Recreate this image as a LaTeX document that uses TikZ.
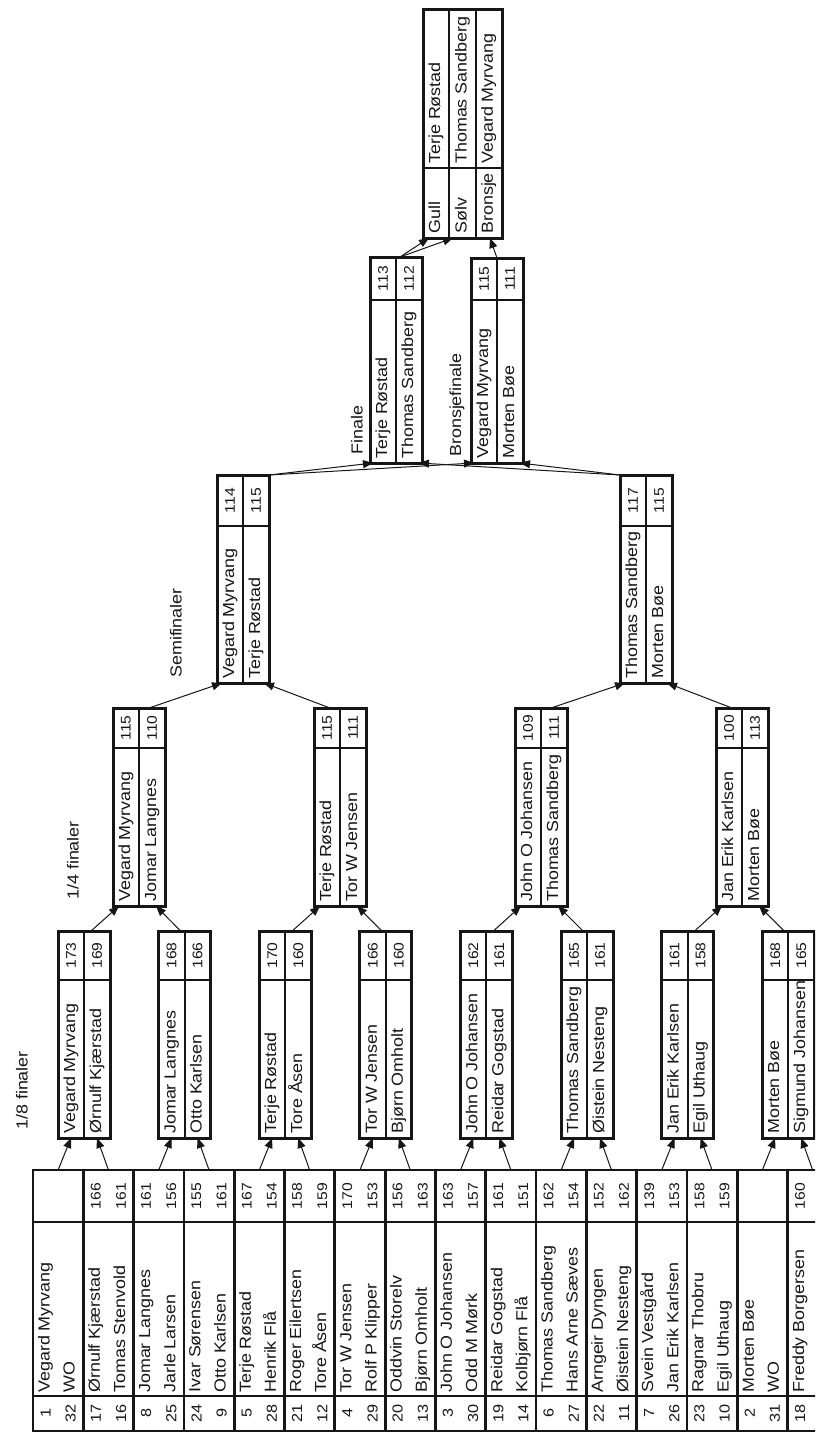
\documentclass[tikz,border=0pt]{standalone}
\usepackage{fontspec}
\setmainfont{Liberation Sans}[FakeStretch=1.12]
\usepackage{tikz}
\usetikzlibrary{arrows.meta,calc}
\definecolor{inkLine}{RGB}{22, 22, 22}

\tikzset{
  boxframe/.style={draw=inkLine, line width=3pt, minimum width=52pt, inner sep=0pt, outer sep=0pt},
  groupframe/.style={draw=inkLine, line width=2.8pt, minimum width=50.3pt, minimum height=261pt, inner sep=0pt, outer sep=0pt, anchor=north west},
  cellrule/.style={draw=inkLine, line width=2pt},
  tablerule/.style={draw=inkLine, line width=2.8pt},
  namecell/.style={rotate=90, anchor=west, inner sep=0pt, text height=11pt, text depth=3pt, text=inkLine, font=\fontsize{16}{18}\selectfont},
  scorecell/.style={rotate=90, inner sep=0pt, text=inkLine, font=\fontsize{14}{16}\selectfont},
  seedcell/.style={rotate=90, inner sep=0pt, text=inkLine, font=\fontsize{14.5}{16}\selectfont},
  roundlabel/.style={rotate=90, anchor=west, inner sep=0pt, text=inkLine, font=\fontsize{16}{18}\selectfont},
  advance/.style={draw=inkLine, line width=1pt, -{Triangle[length=10pt,width=8pt]}},
}

% one match: name, left, top, height, score depth, player 1, score 1, player 2, score 2
\newcommand{\matchbox}[9]{%
  \node[boxframe, minimum height=#4pt, anchor=north west] (#1) at (#2,#3) {};
  \draw[cellrule] (#1.north) -- (#1.south);
  \draw[cellrule] ($(#1.north west)+(0,#5)$) -- ($(#1.north east)+(0,#5)$);
  \node[namecell] (#1-p1) at ($(#1.south west)+(13,-4)$) {#6};
  \node[namecell] (#1-p2) at ($(#1.south east)+(-13,-4)$) {#8};
  \node[scorecell] (#1-s1) at ($(#1.north west)+(13,#5/2)$) {#7};
  \node[scorecell] (#1-s2) at ($(#1.north east)+(-13,#5/2)$) {#9};
}

\begin{document}
\begin{tikzpicture}[x=1pt, y=-1pt]
\useasboundingbox (0,0) rectangle (815,1435);
\clip (0,0) rectangle (815,1435);

% seeding table
\foreach \g in {1,...,16}
  \node[groupframe] (grp\g) at ({33+50.3*(\g-1)},1170) {};
\draw[tablerule] ($(grp1.north west)+(0,52)$) -- ($(grp16.north east)+(0,52)$);
\draw[tablerule] ($(grp1.south west)+(0,-35)$) -- ($(grp16.south east)+(0,-35)$);

\foreach \seed/\player/\score [count=\idx] in {
  1/Vegard Myrvang/{}, 32/WO/{},
  17/Ørnulf Kjærstad/166, 16/Tomas Stenvold/161,
  8/Jomar Langnes/161, 25/Jarle Larsen/156,
  24/Ivar Sørensen/155, 9/Otto Karlsen/161,
  5/Terje Røstad/167, 28/Henrik Flå/154,
  21/Roger Eilertsen/158, 12/Tore Åsen/159,
  4/Tor W Jensen/170, 29/Rolf P Klipper/153,
  20/Oddvin Storelv/156, 13/Bjørn Omholt/163,
  3/John O Johansen/163, 30/Odd M Mørk/157,
  19/Reidar Gogstad/161, 14/Kolbjørn Flå/151,
  6/Thomas Sandberg/162, 27/Hans Arne Sæves/154,
  22/Arngeir Dyngen/152, 11/Øistein Nesteng/162,
  7/Svein Vestgård/139, 26/Jan Erik Karlsen/153,
  23/Ragnar Thobru/158, 10/Egil Uthaug/159,
  2/Morten Bøe/{}, 31/WO/{},
  18/Freddy Borgersen/160}{
  \node[seedcell] (seed\idx) at ({33+25.15*\idx-12.575},1413) {\seed};
  \node[namecell] (player\idx) at ({33+25.15*\idx-12.575},1393) {\player};
  \node[scorecell] (score\idx) at ({33+25.15*\idx-12.575},1196) {\score};
}

% 1/8 finaler
\matchbox{ef1}{58}{931}{207}{49}{Vegard Myrvang}{173}{Ørnulf Kjærstad}{169}
\matchbox{ef2}{158.6}{931}{207}{49}{Jomar Langnes}{168}{Otto Karlsen}{166}
\matchbox{ef3}{259.2}{931}{207}{49}{Terje Røstad}{170}{Tore Åsen}{160}
\matchbox{ef4}{359.8}{931}{207}{49}{Tor W Jensen}{166}{Bjørn Omholt}{160}
\matchbox{ef5}{460.4}{931}{207}{49}{John O Johansen}{162}{Reidar Gogstad}{161}
\matchbox{ef6}{561}{931}{207}{49}{Thomas Sandberg}{165}{Øistein Nesteng}{161}
\matchbox{ef7}{661.6}{931}{207}{49}{Jan Erik Karlsen}{161}{Egil Uthaug}{158}
\matchbox{ef8}{762.2}{931}{207}{49}{Morten Bøe}{168}{Sigmund Johansen}{165}

% 1/4 finaler
\matchbox{qf1}{113}{708}{198}{40}{Vegard Myrvang}{115}{Jomar Langnes}{110}
\matchbox{qf2}{314}{708}{198}{40}{Terje Røstad}{115}{Tor W Jensen}{111}
\matchbox{qf3}{515}{708}{198}{40}{John O Johansen}{109}{Thomas Sandberg}{111}
\matchbox{qf4}{716}{708}{198}{40}{Jan Erik Karlsen}{100}{Morten Bøe}{113}

% semifinaler, finaler
\matchbox{sf1}{217}{475}{208}{51}{Vegard Myrvang}{114}{Terje Røstad}{115}
\matchbox{sf2}{620}{475}{208}{51}{Thomas Sandberg}{117}{Morten Bøe}{115}
\matchbox{final}{370}{257}{206}{43}{Terje Røstad}{113}{Thomas Sandberg}{112}
\matchbox{bronze}{471}{258}{205}{42}{Vegard Myrvang}{115}{Morten Bøe}{111}

% medaljer
\node[boxframe, minimum width=79pt, minimum height=229pt, anchor=north west] (medals) at (423,9) {};
\draw[cellrule] ($(medals.north west)!1/3!(medals.north east)$) -- ($(medals.south west)!1/3!(medals.south east)$);
\draw[cellrule] ($(medals.north west)!2/3!(medals.north east)$) -- ($(medals.south west)!2/3!(medals.south east)$);
\draw[cellrule] ($(medals.north west)+(0,159)$) -- ($(medals.north east)+(0,159)$);
\node[namecell] (gull) at ($(medals.south west)+(13.2,-4)$) {Gull};
\node[namecell] (solv) at ($(medals.south west)+(39.5,-4)$) {Sølv};
\node[namecell] (bronsje) at ($(medals.south west)+(65.8,-4)$) {Bronsje};
\node[namecell] (gullname) at ($(medals.north west)+(13.2,155)$) {Terje Røstad};
\node[namecell] (solvname) at ($(medals.north west)+(39.5,155)$) {Thomas Sandberg};
\node[namecell] (bronsjename) at ($(medals.north west)+(65.8,155)$) {Vegard Myrvang};

% round labels
\node[roundlabel] (lbleighth) at (22,1130) {1/8 finaler};
\node[roundlabel] (lblquarter) at (73,900) {1/4 finaler};
\node[roundlabel] (lblsemi) at (176,678) {Semifinaler};
\node[roundlabel] (lblfinal) at (357,455) {Finale};
\node[roundlabel] (lblbronze) at (457,457) {Bronsjefinale};

% connectors
\foreach \k/\ga/\gb in {1/1/2,2/3/4,3/5/6,4/7/8,5/9/10,6/11/12,7/13/14,8/15/16}{
  \draw[advance] (grp\ga.north) -- ($(ef\k.south west)+(13,0)$);
  \draw[advance] (grp\gb.north) -- ($(ef\k.south east)+(-13,0)$);
}
\foreach \q/\ea/\eb in {1/1/2,2/3/4,3/5/6,4/7/8}{
  \draw[advance] ($(ef\ea.north)+(7,0)$) -- ($(qf\q.south west)+(6,0)$);
  \draw[advance] ($(ef\eb.north)+(-4,0)$) -- ($(qf\q.south east)+(-9,0)$);
}
\foreach \s/\qa/\qb in {1/1/2,2/3/4}{
  \draw[advance] ($(qf\qa.north)+(10,0)$) -- ($(sf\s.south west)+(5,0)$);
  \draw[advance] ($(qf\qb.north)+(-10,0)$) -- ($(sf\s.south east)+(-5,0)$);
}
\draw[advance] (sf1.north east) -- ($(final.south west)+(3,0)$);
\draw[advance] (sf1.north east) -- ($(bronze.south west)+(3,0)$);
\draw[advance] (sf2.north west) -- ($(final.south east)+(-3,0)$);
\draw[advance] (sf2.north west) -- ($(bronze.south east)+(-3,0)$);
\draw[advance] ($(final.north)+(4,0)$) -- ($(medals.south west)+(6,0)$);
\draw[advance] ($(final.north)+(4,0)$) -- ($(medals.south west)+(30,0)$);
\draw[advance] (bronze.north) -- ($(medals.south east)+(-12,0)$);
\end{tikzpicture}
\end{document}
